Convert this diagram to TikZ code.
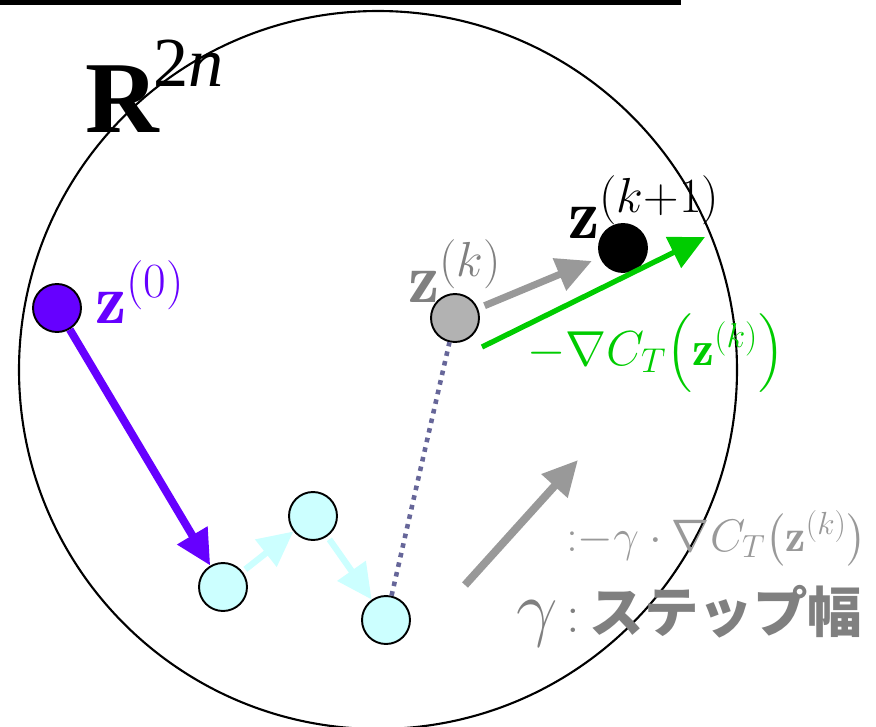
\RequirePackage{fix-cm}
\documentclass[tikz,border=0pt]{standalone}
\usepackage{amsmath}
\usepackage{fontspec}
\usetikzlibrary{arrows.meta}
\newfontfamily\tms{Liberation Serif}
\newfontfamily\jp{Noto Sans CJK JP}
\definecolor{Violet}{HTML}{6600FF}
\definecolor{Ice}{HTML}{CCFFFF}
\definecolor{Ash}{HTML}{B2B2B2}
\definecolor{Stone}{HTML}{999999}
\definecolor{Slate}{HTML}{808080}
\definecolor{Leaf}{HTML}{00CC00}
\definecolor{Dots}{HTML}{666699}

\begin{document}
\begin{tikzpicture}[x=0.02cm,y=-0.02cm,
  pt/.style={circle,draw=black,line width=1.1pt,minimum size=0.96cm,inner sep=0pt},
  lbl/.style={anchor=base west,inner sep=0pt},
  fatarr/.style={line width=#1,-{Triangle[length=20pt,width=19pt]}}]
\useasboundingbox (0,0) rectangle (876,727);
\fill[black] (0,0) rectangle (681,5);
\draw[line width=1.2pt] (378,370) circle[radius=359];
\node[lbl] (space) at (85,132) {\tms\fontsize{58}{60}\selectfont\bfseries R\kern-3pt\raisebox{26pt}{\mdseries\fontsize{40}{42}\selectfont 2\textit{n}}};
% points of the iteration
\node[pt,fill=Violet] (z0) at (57,308) {};
\node[pt,fill=Ice] (p1) at (223,587) {};
\node[pt,fill=Ice] (p2) at (313,516) {};
\node[pt,fill=Ice] (p3) at (386,620) {};
\node[pt,fill=Ash] (zk) at (455,318) {};
\node[pt,fill=black] (zk1) at (623,248) {};
\node[lbl,text=Violet,font=\fontsize{40}{48}\selectfont] (lz0) at (95,323) {$\mathbf{z}^{(0)}$};
\node[lbl,text=Slate,font=\fontsize{40}{48}\selectfont] (lzk) at (408,302) {$\mathbf{z}^{(k)}$};
\node[lbl,font=\fontsize{40}{48}\selectfont] (lzk1) at (568,238) {$\mathbf{z}^{(k{+}1)}$};
\draw[fatarr=4.5pt,Violet] (z0) -- (p1);
\draw[fatarr=3.6pt,Ice,shorten <=2pt] (p1) -- (p2);
\draw[fatarr=3.6pt,Ice,shorten <=2pt] (p2) -- (p3);
\draw[Dots,line width=2.6pt,dash pattern=on 2.6pt off 3pt] (p3) -- (zk);
\draw[fatarr=4pt,Stone,shorten <=4pt,shorten >=5pt] (zk) -- (zk1);
% gradient direction
\coordinate (g0) at (482,347);
\coordinate (g1) at (705,237);
\draw[fatarr=3pt,Leaf] (g0) -- (g1);
\node[lbl,text=Leaf,font=\fontsize{28}{34}\selectfont] (grad) at (527,365) {$-\nabla C_T\bigl(\mathbf{z}^{(k)}\bigr)$};
% legend
\coordinate (l0) at (465,585);
\coordinate (l1) at (578,460);
\draw[fatarr=4.5pt,Stone] (l0) -- (l1);
\node[lbl,text=Stone,font=\fontsize{26}{30}\selectfont] (rule) at (566,551) {${:}{-}\gamma\cdot\nabla C_T\bigl(\mathbf{z}^{(k)}\bigr)$};
\node[lbl,text=Slate] (gam) at (516,632) {{\fontsize{42}{48}\selectfont$\gamma$}{\fontsize{31}{36}\selectfont\,:\,\jp\bfseries ステップ幅}};
\end{tikzpicture}
\end{document}
